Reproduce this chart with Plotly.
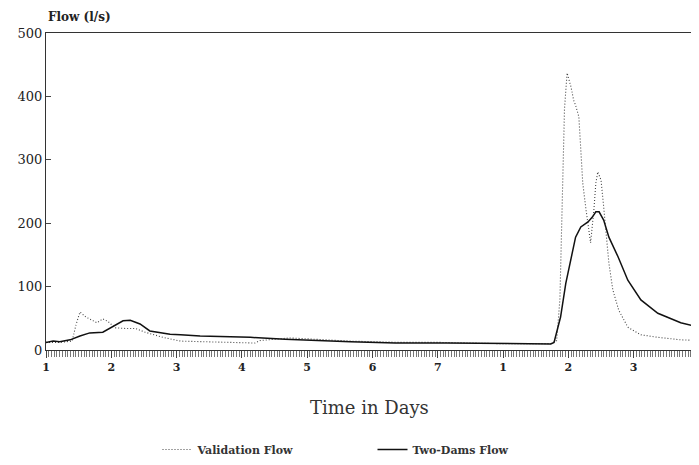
import plotly.graph_objects as go

# Time axis: continuous day index (0..10) labelled as days 1..7 then 1..4
tick_positions = [0, 1, 2, 3, 4, 5, 6, 7, 8, 9, 10]
tick_labels = ["1", "2", "3", "4", "5", "6", "7", "1", "2", "3", "4"]

validation_t = [0, 0.21, 0.40, 0.46, 0.52, 0.61, 0.78, 0.87, 0.95, 1.06, 1.21, 1.37, 1.52,
                1.79, 2.06, 2.36, 2.82, 3.20, 3.28, 3.74, 4.66, 5.43, 6.04, 6.35, 6.96,
                7.73, 7.82, 7.87, 7.91, 7.94, 7.98, 8.04, 8.08, 8.11, 8.16, 8.19, 8.22,
                8.27, 8.31, 8.34, 8.39, 8.42, 8.45, 8.50, 8.54, 8.57, 8.62, 8.68, 8.77,
                8.91, 9.11, 9.37, 9.72, 10.0]
validation_q = [12, 12, 14, 40, 60, 52, 43, 49, 45, 35, 34, 34, 28,
                20, 14, 13, 12, 11, 15, 19, 14, 12, 12, 11, 10,
                10, 15, 80, 250, 380, 437, 415, 394, 386, 368, 315, 263,
                221, 189, 169, 221, 263, 281, 268, 226, 189, 137, 95, 63,
                36, 24, 20, 16, 15]

twodams_t = [0, 0.11, 0.21, 0.37, 0.52, 0.67, 0.87, 1.03, 1.18, 1.29, 1.44, 1.59, 1.90,
             2.06, 2.36, 3.13, 3.66, 4.66, 5.35, 6.13, 7.42, 7.73, 7.78, 7.88, 7.96,
             8.04, 8.11, 8.19, 8.30, 8.37, 8.42, 8.47, 8.54, 8.62, 8.76, 8.91, 9.11,
             9.37, 9.72, 10.0]
twodams_q = [12, 14, 13, 16, 22, 27, 28, 38, 46, 47, 41, 30, 25,
             24, 22, 20, 17, 13, 11, 11, 9.5, 9.5, 12, 52, 105,
             147, 178, 194, 202, 210, 218, 218, 205, 178, 147, 110, 79,
             58, 43, 36]

y_ticks = [0, 100, 200, 300, 400, 500]

serif = "'DejaVu Serif', 'Liberation Serif', serif"

fig = go.Figure()
fig.add_trace(go.Scatter(
    x=validation_t, y=validation_q, mode="lines", name="<b>Validation Flow</b>",
    line=dict(color="#444444", width=1.1, dash="1px,2px"),
))
fig.add_trace(go.Scatter(
    x=twodams_t, y=twodams_q, mode="lines", name="<b>Two-Dams Flow</b>",
    line=dict(color="#111111", width=1.5),
))

# page body has an 8px default margin, so the figure is sized/offset to compensate
fig.update_layout(
    width=691, height=449,
    margin=dict(l=38, r=0, t=25, b=107, autoexpand=False),
    paper_bgcolor="white", plot_bgcolor="white",
    font=dict(family=serif, color="#222222"),
    showlegend=True,
    legend=dict(
        orientation="h", x=0.50, xanchor="center", y=-0.268, yanchor="top",
        font=dict(family=serif, size=11, color="#333333"),
        entrywidth=170, itemwidth=30,
    ),
    xaxis=dict(
        range=[0, 10], showgrid=False, zeroline=False, automargin=False,
        showline=True, linecolor="#333333", linewidth=1, mirror=True,
        tickmode="array", tickvals=tick_positions, ticktext=["<b>%s</b>" % t for t in tick_labels],
        ticks="outside", ticklen=7, tickcolor="#444444",
        tickfont=dict(family=serif, size=11, color="#222222"),
        minor=dict(tickmode="linear", tick0=0, dtick=1/24, ticks="outside",
                   ticklen=6, tickcolor="#777777", tickwidth=1),
    ),
    yaxis=dict(
        range=[0, 500], showgrid=False, zeroline=False, automargin=False,
        showline=True, linecolor="#333333", linewidth=1,
        tickmode="array", tickvals=y_ticks,
        ticks="inside", ticklen=5, tickcolor="#444444",
        tickfont=dict(family=serif, size=13, color="#222222"),
    ),
    annotations=[
        dict(text="<b>Flow (l/s)</b>", xref="paper", yref="paper", x=0.0, y=1.0,
             xanchor="left", yanchor="bottom", yshift=7, showarrow=False,
             font=dict(family=serif, size=12, color="#222222")),
        dict(text="Time in Days", xref="paper", yref="paper", x=0.495, y=0,
             xanchor="center", yanchor="middle", yshift=-57, showarrow=False,
             font=dict(family=serif, size=18, color="#333333")),
    ],
)

fig.write_html("out.html")
